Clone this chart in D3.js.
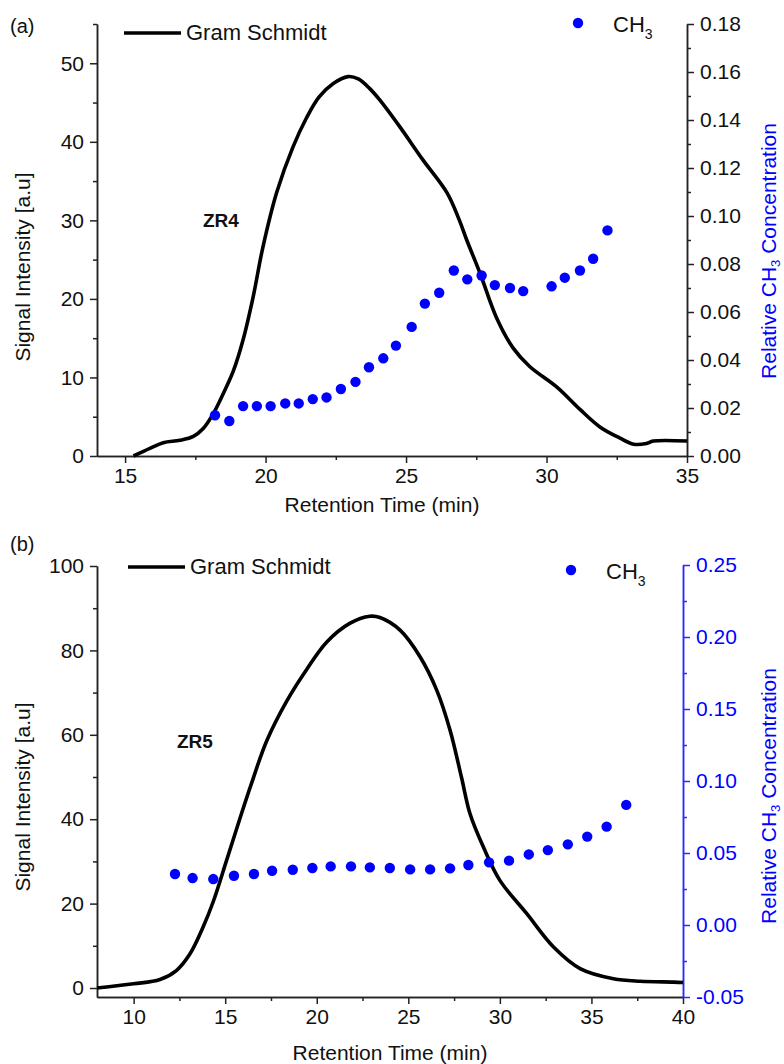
<!DOCTYPE html>
<html>
<head>
<meta charset="utf-8">
<script src="https://cdn.jsdelivr.net/npm/d3@7"></script>
<style>
  body { margin: 0; background: #fff; }
  svg { display: block; font-family: "Liberation Sans", Arial, sans-serif; }
  .axis path, .axis line { stroke: #222; stroke-width: 1.5; }
  .axis text { font-size: 21px; fill: #111; font-family: "Liberation Sans", Arial, sans-serif; }
</style>
</head>
<body>
<svg id="chart" width="784" height="1064"></svg>
<script>
// ---- panel (a) ZR4 ----
const gsTimeA = [15.3, 15.9, 16.36, 16.95, 17.43, 17.78, 18.14, 18.5, 18.85, 19.2, 19.56, 19.9,
  20.4, 20.97, 21.45, 21.9, 22.4, 22.93, 23.3, 23.7, 24.07, 24.78, 25.6, 26.46, 26.9, 27.16,
  27.63, 28.22, 28.8, 29.4, 30.36, 31.2, 31.9, 32.6, 33.1, 33.56, 33.8, 35];
const gsSignalA = [0, 1.0, 1.7, 2.0, 2.5, 3.5, 5.4, 8.0, 10.8, 14.8, 20.3, 26.5,
  33.6, 39.3, 43.0, 45.7, 47.4, 48.3, 48.0, 46.8, 45.3, 41.9, 37.7, 33.5, 30.0, 27.5,
  23.3, 17.6, 13.8, 11.4, 8.8, 5.9, 3.7, 2.3, 1.5, 1.6, 1.9, 1.9];
const ch3TimeA = [18.2, 18.71, 19.2, 19.69, 20.18, 20.7, 21.18, 21.68, 22.17, 22.68, 23.2, 23.68,
  24.19, 24.64, 25.2, 25.67, 26.18, 26.7, 27.18, 27.69, 28.16, 28.7, 29.17, 30.18, 30.65, 31.19,
  31.66, 32.17];
const ch3ConcA = [0.017, 0.0146, 0.0208, 0.0208, 0.0208, 0.0219, 0.0219, 0.0237, 0.0244, 0.0279,
  0.0309, 0.037, 0.0407, 0.046, 0.0538, 0.0635, 0.068, 0.0773, 0.0736, 0.0752, 0.0712, 0.070,
  0.0687, 0.0707, 0.0743, 0.0773, 0.0822, 0.094];
const xTicksA = [15, 20, 25, 30, 35];
const xMinorA = [17.5, 22.5, 27.5, 32.5];
const yTicksA = [0, 10, 20, 30, 40, 50];
const yMinorA = [5, 15, 25, 35, 45, 55];
const rTicksA = [0, 0.02, 0.04, 0.06, 0.08, 0.10, 0.12, 0.14, 0.16, 0.18];
const rMinorA = [0.01, 0.03, 0.05, 0.07, 0.09, 0.11, 0.13, 0.15, 0.17];

// ---- panel (b) ZR5 ----
const gsTimeB = [8, 10, 11.44, 12.35, 13.08, 13.8, 14.35, 15.08, 15.8, 16.4, 17.27, 18.36, 19.45,
  20.55, 21.8, 22.9, 23.45, 24.55, 25.64, 26.55, 27.28, 27.9, 28.37, 29.1, 30.0, 31.47, 32.93,
  34.38, 36.2, 37.66, 39.5, 40];
const gsSignalB = [0, 1.0, 2.0, 4.2, 8.1, 14.5, 20.5, 30.3, 40.1, 48.0, 58.6, 68.0, 75.5,
  82.0, 86.4, 88.1, 87.8, 84.8, 78.5, 70.6, 61.1, 50.0, 41.3, 33.4, 25.5, 17.6, 9.7,
  4.6, 2.2, 1.6, 1.4, 1.3];
const ch3TimeB = [12.26, 13.22, 14.35, 15.48, 16.57, 17.56, 18.69, 19.76, 20.76, 21.87, 22.9, 23.99,
  25.1, 26.19, 27.28, 28.28, 29.41, 30.5, 31.58, 32.62, 33.71, 34.77, 35.83, 36.9];
const ch3ConcB = [0.0354, 0.0326, 0.0319, 0.0342, 0.0354, 0.0377, 0.0384, 0.0396, 0.0407, 0.0407,
  0.040, 0.0396, 0.0386, 0.0386, 0.0393, 0.0417, 0.0435, 0.0447, 0.049, 0.052, 0.056, 0.0614,
  0.0683, 0.0834];
const xTicksB = [10, 15, 20, 25, 30, 35, 40];
const xMinorB = [12.5, 17.5, 22.5, 27.5, 32.5, 37.5];
const yTicksB = [0, 20, 40, 60, 80, 100];
const yMinorB = [10, 30, 50, 70, 90];
const rTicksB = [-0.05, 0, 0.05, 0.10, 0.15, 0.20, 0.25];
const rMinorB = [-0.025, 0.025, 0.075, 0.125, 0.175, 0.225];

const svg = d3.select("#chart");
const BLUE = "#0000ff";

function drawPanel(p) {
  let g = svg.append("g");

  let x = d3.scaleLinear().domain(p.xDomain).range([97, p.xRight]);
  let y = d3.scaleLinear().domain(p.yDomain).range([p.bottom, p.top]);
  let yr = d3.scaleLinear().domain(p.rDomain).range([p.bottom, p.rTop]);

  // x axis
  g.append("g").attr("class", "axis")
    .attr("transform", "translate(0," + p.bottom + ")")
    .call(d3.axisBottom(x).tickValues(p.xTicks).tickFormat(d3.format("d")).tickSize(7).tickSizeOuter(0).tickPadding(5));
  g.append("g").attr("class", "axis")
    .attr("transform", "translate(0," + p.bottom + ")")
    .call(d3.axisBottom(x).tickValues(p.xMinor).tickFormat("").tickSize(4).tickSizeOuter(0));

  // left axis
  g.append("g").attr("class", "axis")
    .attr("transform", "translate(97,0)")
    .call(d3.axisLeft(y).tickValues(p.yTicks).tickFormat(d3.format("d")).tickSize(7).tickSizeOuter(0).tickPadding(6));
  g.append("g").attr("class", "axis")
    .attr("transform", "translate(97,0)")
    .call(d3.axisLeft(y).tickValues(p.yMinor).tickFormat("").tickSize(4).tickSizeOuter(0));

  // right axis
  let ra = g.append("g").attr("class", "axis")
    .attr("transform", "translate(" + p.xRight + ",0)")
    .call(d3.axisRight(yr).tickValues(p.rTicks).tickFormat(d3.format(".2f")).tickSize(7).tickSizeOuter(0).tickPadding(6));
  let rm = g.append("g").attr("class", "axis")
    .attr("transform", "translate(" + p.xRight + ",0)")
    .call(d3.axisRight(yr).tickValues(p.rMinor).tickFormat("").tickSize(4).tickSizeOuter(0));
  if (p.blueRight) {
    ra.selectAll("path, line").style("stroke", "#2b2bff");
    rm.selectAll("path, line").style("stroke", "#2b2bff");
    ra.selectAll("text").style("fill", BLUE);
    ra.selectAll("text").text(d => d3.format(".2f")(d).replace("−", "-"));
  }

  // Gram Schmidt line
  let pts = p.gsTime.map((t, i) => [t, p.gsSignal[i]]);
  g.append("path")
    .datum(pts)
    .attr("fill", "none")
    .attr("stroke", "#000")
    .attr("stroke-width", 3.6)
    .attr("stroke-linejoin", "round")
    .attr("d", d3.line().x(d => x(d[0])).y(d => y(d[1])).curve(d3.curveCatmullRom.alpha(0.5)));

  // CH3 dots
  let dots = p.chTime.map((t, i) => [t, p.chConc[i]]);
  g.selectAll(".dot").data(dots).join("circle")
    .attr("class", "dot")
    .attr("cx", d => x(d[0]))
    .attr("cy", d => yr(d[1]))
    .attr("r", 5.2)
    .attr("fill", BLUE);

  // axis titles
  g.append("text")
    .attr("x", p.xTitleX).attr("y", p.xTitleY)
    .attr("text-anchor", "middle")
    .style("font-size", "21px").style("fill", "#111")
    .text("Retention Time (min)");

  g.append("text")
    .attr("transform", "translate(30," + p.yTitleY + ") rotate(-90)")
    .attr("text-anchor", "middle")
    .style("font-size", "21px").style("fill", "#111")
    .text("Signal Intensity [a.u]");

  let rt = g.append("text")
    .attr("transform", "translate(776," + p.rTitleY + ") rotate(-90)")
    .attr("text-anchor", "middle")
    .style("font-size", "21px").style("fill", BLUE);
  rt.append("tspan").text("Relative CH");
  rt.append("tspan").attr("dy", 4).style("font-size", "13px").text("3");
  rt.append("tspan").attr("dy", -4).text(" Concentration");

  // legend
  g.append("line")
    .attr("x1", p.legLineX).attr("x2", p.legLineX + 57)
    .attr("y1", p.legY).attr("y2", p.legY)
    .attr("stroke", "#000").attr("stroke-width", 3.6);
  g.append("text")
    .attr("x", p.legLineX + 62).attr("y", p.legY + 7)
    .style("font-size", "22px").style("fill", "#111")
    .text("Gram Schmidt");

  g.append("circle")
    .attr("cx", p.legDotX).attr("cy", p.legDotY)
    .attr("r", 5.2).attr("fill", BLUE);
  let lt = g.append("text")
    .attr("x", p.legDotX + 35).attr("y", p.legDotY + 9)
    .style("font-size", "22px").style("fill", "#111");
  lt.append("tspan").text("CH");
  lt.append("tspan").attr("dy", 7).style("font-size", "14px").text("3");

  // panel label and sample name
  g.append("text")
    .attr("x", 10).attr("y", p.panelY)
    .style("font-size", "20px").style("fill", "#111")
    .text(p.panel);
  g.append("text")
    .attr("x", p.nameX).attr("y", p.nameY)
    .style("font-size", "19px").style("font-weight", "bold").style("fill", "#111")
    .text(p.name);
}

drawPanel({
  xDomain: [14, 35], xRight: 687,
  yDomain: [0, 55], rDomain: [0, 0.18],
  bottom: 456, top: 24, rTop: 24,
  xTicks: xTicksA, xMinor: xMinorA, yTicks: yTicksA, yMinor: yMinorA, rTicks: rTicksA, rMinor: rMinorA,
  gsTime: gsTimeA, gsSignal: gsSignalA, chTime: ch3TimeA, chConc: ch3ConcA,
  blueRight: false,
  xTitleX: 382, xTitleY: 512, yTitleY: 267, rTitleY: 251,
  legLineX: 124, legY: 33, legDotX: 578, legDotY: 23,
  panel: "(a)", panelY: 33, name: "ZR4", nameX: 203, nameY: 227
});

drawPanel({
  xDomain: [8, 40], xRight: 683,
  yDomain: [-2.13, 100], rDomain: [-0.05, 0.25],
  bottom: 997, top: 566, rTop: 565,
  xTicks: xTicksB, xMinor: xMinorB, yTicks: yTicksB, yMinor: yMinorB, rTicks: rTicksB, rMinor: rMinorB,
  gsTime: gsTimeB, gsSignal: gsSignalB, chTime: ch3TimeB, chConc: ch3ConcB,
  blueRight: true,
  xTitleX: 390, xTitleY: 1060, yTitleY: 797, rTitleY: 796,
  legLineX: 128, legY: 567, legDotX: 571, legDotY: 570,
  panel: "(b)", panelY: 551, name: "ZR5", nameX: 177, nameY: 748
});
</script>
</body>
</html>
